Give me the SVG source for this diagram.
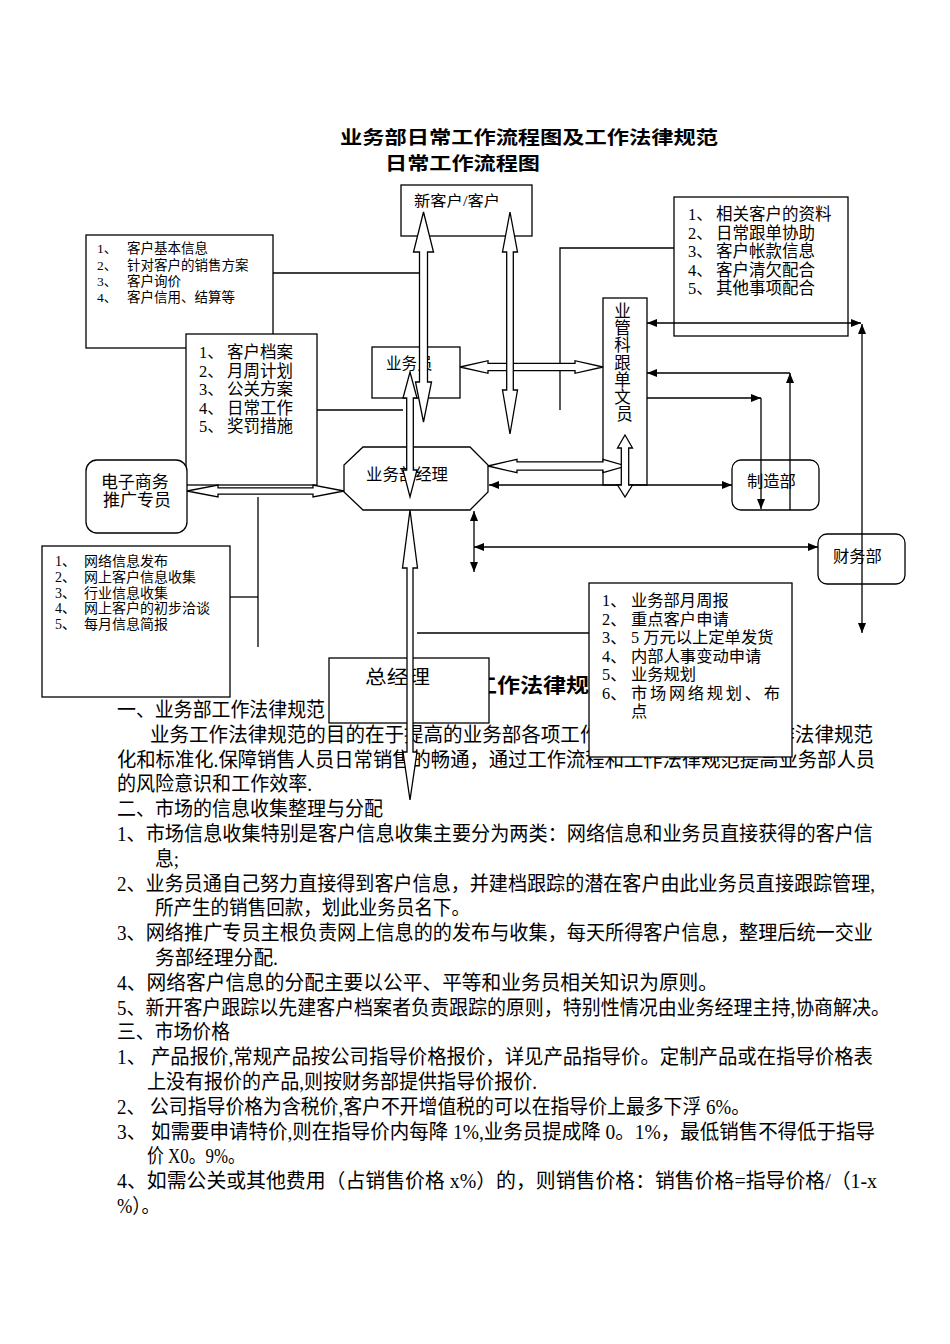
<svg xmlns="http://www.w3.org/2000/svg" width="950" height="1344" viewBox="0 0 950 1344">
<style>
.bg{fill:#fff}
.box{fill:#fff;stroke:#000;stroke-width:1.3}
.t{font-family:"Liberation Serif","Noto Sans CJK SC",serif;fill:#000}
.h{font-family:"Liberation Sans","Noto Sans CJK SC",sans-serif;font-weight:700;fill:#000}
.p{font-family:"Liberation Serif","Noto Sans CJK SC",serif;font-size:20px;fill:#000}
.ln{stroke:#000;stroke-width:1.3;fill:none}
.blk{fill:#fff;stroke:#000;stroke-width:1.3;stroke-linejoin:miter}
</style>
<defs>
<marker id="ah" viewBox="0 0 10 8" refX="10" refY="4" markerWidth="10" markerHeight="8" markerUnits="userSpaceOnUse" orient="auto-start-reverse">
<path d="M0,0 L10,4 L0,8 z" fill="#000"/>
</marker>
</defs>
<rect class="bg" x="0" y="0" width="950" height="1344"/>

<g id="title">
<text class="h" x="340" y="144" font-size="18.5" textLength="378" lengthAdjust="spacingAndGlyphs">业务部日常工作流程图及工作法律规范</text>
<text class="h" x="385" y="170" font-size="18.5" textLength="155" lengthAdjust="spacingAndGlyphs">日常工作流程图</text>
</g>

<g id="body-text">
<text class="h" x="474" y="693" font-size="20" textLength="138" lengthAdjust="spacingAndGlyphs">工作法律规范</text>
<text class="p" x="117" y="717" textLength="208" lengthAdjust="spacingAndGlyphs">一、业务部工作法律规范</text>
<text class="p" x="150" y="741.8" textLength="723" lengthAdjust="spacingAndGlyphs">业务工作法律规范的目的在于提高的业务部各项工作的效率，使业务部工作法律规范</text>
<text class="p" x="117" y="766.6" textLength="758" lengthAdjust="spacingAndGlyphs">化和标准化.保障销售人员日常销售的畅通，通过工作流程和工作法律规范提高业务部人员</text>
<text class="p" x="117" y="791.4" textLength="195" lengthAdjust="spacingAndGlyphs">的风险意识和工作效率.</text>
<text class="p" x="117" y="816.2" textLength="266" lengthAdjust="spacingAndGlyphs">二、市场的信息收集整理与分配</text>
<text class="p" x="117" y="841" textLength="756" lengthAdjust="spacingAndGlyphs">1、市场信息收集特别是客户信息收集主要分为两类：网络信息和业务员直接获得的客户信</text>
<text class="p" x="155" y="865.8" textLength="24" lengthAdjust="spacingAndGlyphs">息;</text>
<text class="p" x="117" y="890.6" textLength="758" lengthAdjust="spacingAndGlyphs">2、业务员通自己努力直接得到客户信息，并建档跟踪的潜在客户由此业务员直接跟踪管理,</text>
<text class="p" x="155" y="915.4" textLength="315" lengthAdjust="spacingAndGlyphs">所产生的销售回款，划此业务员名下。</text>
<text class="p" x="117" y="940.2" textLength="756" lengthAdjust="spacingAndGlyphs">3、网络推广专员主根负责网上信息的的发布与收集，每天所得客户信息，整理后统一交业</text>
<text class="p" x="155" y="965" textLength="123" lengthAdjust="spacingAndGlyphs">务部经理分配.</text>
<text class="p" x="117" y="989.8" textLength="601" lengthAdjust="spacingAndGlyphs">4、网络客户信息的分配主要以公平、平等和业务员相关知识为原则。</text>
<text class="p" x="117" y="1014.6" textLength="773" lengthAdjust="spacingAndGlyphs">5、新开客户跟踪以先建客户档案者负责跟踪的原则，特别性情况由业务经理主持,协商解决。</text>
<text class="p" x="117" y="1039.4" textLength="113" lengthAdjust="spacingAndGlyphs">三、市场价格</text>
<text class="p" x="117" y="1064.2" textLength="756" lengthAdjust="spacingAndGlyphs">1、 产品报价,常规产品按公司指导价格报价，详见产品指导价。定制产品或在指导价格表</text>
<text class="p" x="147" y="1089" textLength="390" lengthAdjust="spacingAndGlyphs">上没有报价的产品,则按财务部提供指导价报价.</text>
<text class="p" x="117" y="1113.8" textLength="633" lengthAdjust="spacingAndGlyphs">2、 公司指导价格为含税价,客户不开增值税的可以在指导价上最多下浮 6%。</text>
<text class="p" x="117" y="1138.6" textLength="758" lengthAdjust="spacingAndGlyphs">3、 如需要申请特价,则在指导价内每降 1%,业务员提成降 0。1%，最低销售不得低于指导</text>
<text class="p" x="147" y="1163.4" textLength="98" lengthAdjust="spacingAndGlyphs">价 X0。9%。</text>
<text class="p" x="117" y="1188.2" textLength="760" lengthAdjust="spacingAndGlyphs">4、如需公关或其他费用（占销售价格 x%）的，则销售价格：销售价格=指导价格/（1-x</text>
<text class="p" x="117" y="1213" textLength="43" lengthAdjust="spacingAndGlyphs">%）。</text>
</g>

<g id="n_new">
<rect class="box" x="401" y="185" width="131" height="51"/>
<text class="t" x="414" y="206" font-size="15" textLength="86" lengthAdjust="spacingAndGlyphs">新客户/客户</text>
</g>

<g id="n_info1">
<rect class="box" x="86" y="235" width="187" height="113"/>
<text class="t" font-size="13.5">
<tspan x="97" y="253">1、</tspan><tspan x="127" y="253">客户基本信息</tspan>
<tspan x="97" y="270">2、</tspan><tspan x="127" y="270">针对客户的销售方案</tspan>
<tspan x="97" y="286">3、</tspan><tspan x="127" y="286">客户询价</tspan>
<tspan x="97" y="302">4、</tspan><tspan x="127" y="302">客户信用、结算等</tspan>
</text>
</g>

<g id="n_file">
<rect class="box" x="186" y="334" width="131" height="151"/>
<text class="t" font-size="16.5">
<tspan x="199" y="358">1、</tspan><tspan x="227" y="358">客户档案</tspan>
<tspan x="199" y="376.5">2、</tspan><tspan x="227" y="376.5">月周计划</tspan>
<tspan x="199" y="395">3、</tspan><tspan x="227" y="395">公关方案</tspan>
<tspan x="199" y="413.5">4、</tspan><tspan x="227" y="413.5">日常工作</tspan>
<tspan x="199" y="432">5、</tspan><tspan x="227" y="432">奖罚措施</tspan>
</text>
</g>

<g id="n_sales">
<rect class="box" x="372" y="347" width="88" height="51"/>
<text class="t" x="386" y="369" font-size="15.5">业务员</text>
</g>

<g id="n_mgr">
<polygon class="box" points="363,447 470,447 488,465 488,492 470,510 363,510 344,492 344,465"/>
<text class="t" x="366" y="480" font-size="16.4">业务部经理</text>
</g>

<g id="n_ecom">
<rect class="box" x="86" y="460" width="101" height="73" rx="11"/>
<text class="t" font-size="17" text-anchor="middle">
<tspan x="137" y="488">电子商务</tspan>
<tspan x="137" y="506">推广专员</tspan>
</text>
</g>

<g id="n_right">
<rect class="box" x="674" y="197" width="174" height="139"/>
<text class="t" font-size="16.5">
<tspan x="688" y="220">1、</tspan><tspan x="716" y="220">相关客户的资料</tspan>
<tspan x="688" y="238.5">2、</tspan><tspan x="716" y="238.5">日常跟单协助</tspan>
<tspan x="688" y="257">3、</tspan><tspan x="716" y="257">客户帐款信息</tspan>
<tspan x="688" y="275.5">4、</tspan><tspan x="716" y="275.5">客户清欠配合</tspan>
<tspan x="688" y="294">5、</tspan><tspan x="716" y="294">其他事项配合</tspan>
</text>
</g>

<g id="n_clerk">
<rect class="box" x="603" y="298" width="44" height="187"/>
<text class="t" font-size="16.5" text-anchor="middle">
<tspan x="624.5" y="317">业</tspan>
<tspan x="624.5" y="334.2">管</tspan>
<tspan x="624.5" y="351.4">科</tspan>
<tspan x="624.5" y="368.6">跟</tspan>
<tspan x="624.5" y="385.8">单</tspan>
<tspan x="624.5" y="403">文</tspan>
<tspan x="624.5" y="420.2">员</tspan>
</text>
</g>

<g id="n_mfg">
<rect class="box" x="732" y="460" width="87" height="50" rx="9"/>
<text class="t" x="747" y="487" font-size="16.3">制造部</text>
</g>

<g id="n_fin">
<rect class="box" x="818" y="534" width="87" height="50" rx="9"/>
<text class="t" x="833" y="562" font-size="16.3">财务部</text>
</g>

<g id="n_net">
<rect class="box" x="42" y="546" width="188" height="151"/>
<text class="t" font-size="14">
<tspan x="55" y="566">1、</tspan><tspan x="84" y="566">网络信息发布</tspan>
<tspan x="55" y="582">2、</tspan><tspan x="84" y="582">网上客户信息收集</tspan>
<tspan x="55" y="597.5">3、</tspan><tspan x="84" y="597.5">行业信息收集</tspan>
<tspan x="55" y="613">4、</tspan><tspan x="84" y="613">网上客户的初步洽谈</tspan>
<tspan x="55" y="629">5、</tspan><tspan x="84" y="629">每月信息简报</tspan>
</text>
</g>

<g id="n_gm">
<rect class="box" x="329" y="658" width="160" height="65"/>
<text class="t" x="365" y="684" font-size="19.5" textLength="65" lengthAdjust="spacingAndGlyphs">总经理</text>
</g>

<g id="n_report">
<rect class="box" x="589" y="583" width="203" height="174"/>
<text class="t" font-size="16.3">
<tspan x="602" y="606">1、</tspan><tspan x="631" y="606">业务部月周报</tspan>
<tspan x="602" y="624.5">2、</tspan><tspan x="631" y="624.5">重点客户申请</tspan>
<tspan x="602" y="643">3、</tspan><tspan x="631" y="643">5 万元以上定单发货</tspan>
<tspan x="602" y="661.5">4、</tspan><tspan x="631" y="661.5">内部人事变动申请</tspan>
<tspan x="602" y="680">5、</tspan><tspan x="631" y="680">业务规划</tspan>
<tspan x="602" y="698.5">6、</tspan>
<tspan x="631" y="717">点</tspan>
</text>
<text class="t" x="631" y="698.5" font-size="16.3" textLength="149" lengthAdjust="spacing">市场网络规划、布</text>
</g>

<g id="connectors">
<polyline class="ln" points="273,273 419,273"/>
<polyline class="ln" points="317,410 403,410"/>
<polyline class="ln" points="674,248 560,248 560,410"/>
<polyline class="ln" points="230,597 258,597"/>
<polyline class="ln" points="258,497 258,647"/>
<polyline class="ln" points="417,633 589,633"/>

<line class="ln" x1="489" y1="485" x2="732" y2="485" marker-start="url(#ah)" marker-end="url(#ah)"/>
<line class="ln" x1="647" y1="323" x2="861" y2="323" marker-start="url(#ah)" marker-end="url(#ah)"/>
<line class="ln" x1="862" y1="324" x2="862" y2="633" marker-start="url(#ah)" marker-end="url(#ah)"/>
<line class="ln" x1="790" y1="373" x2="647" y2="373" marker-end="url(#ah)"/>
<line class="ln" x1="790" y1="510" x2="790" y2="373" marker-end="url(#ah)"/>
<line class="ln" x1="647" y1="398" x2="761" y2="398" marker-end="url(#ah)"/>
<line class="ln" x1="761" y1="398" x2="761" y2="509" marker-end="url(#ah)"/>
<line class="ln" x1="474" y1="511" x2="474" y2="572" marker-start="url(#ah)" marker-end="url(#ah)"/>
<line class="ln" x1="474" y1="547" x2="818" y2="547" marker-start="url(#ah)" marker-end="url(#ah)"/>

<polygon class="blk" points="460,367 488,360.7 488,363.3 575,363.3 575,360.7 603,367 575,373.3 575,370.7 488,370.7 488,373.3"/>
<polygon class="blk" points="488,466 517,459.3 517,461.8 603,461.8 603,459.3 626,466 603,472.7 603,470.2 517,470.2 517,472.7"/>
<polygon class="blk" points="187,491 218,485 218,487.8 313,487.8 313,485 344,491 313,497 313,494.2 218,494.2 218,497"/>
<polygon class="blk" points="423.5,212 433.5,252 427.5,252 427.5,382 431.5,382 423.5,422 415.5,382 419.5,382 419.5,252 413.5,252"/>
<polygon class="blk" points="510,212 517.5,252 513.3,252 513.3,390 517.5,390 510,434 502.5,390 506.7,390 506.7,252 502.5,252"/>
<polygon class="blk" points="410,372 417,398 413.3,398 413.3,470 417,470 410,497 403,470 406.7,470 406.7,398 403,398"/>
<polygon class="blk" points="410,510 417.5,568 413,568 413,752 417,752 410,800 403,752 407,752 407,568 402.5,568"/>
<polygon class="blk" points="625,435 632.5,448 628.7,448 628.7,485 632.5,485 625,497 617.5,485 621.3,485 621.3,448 617.5,448"/>
</g>
</svg>
